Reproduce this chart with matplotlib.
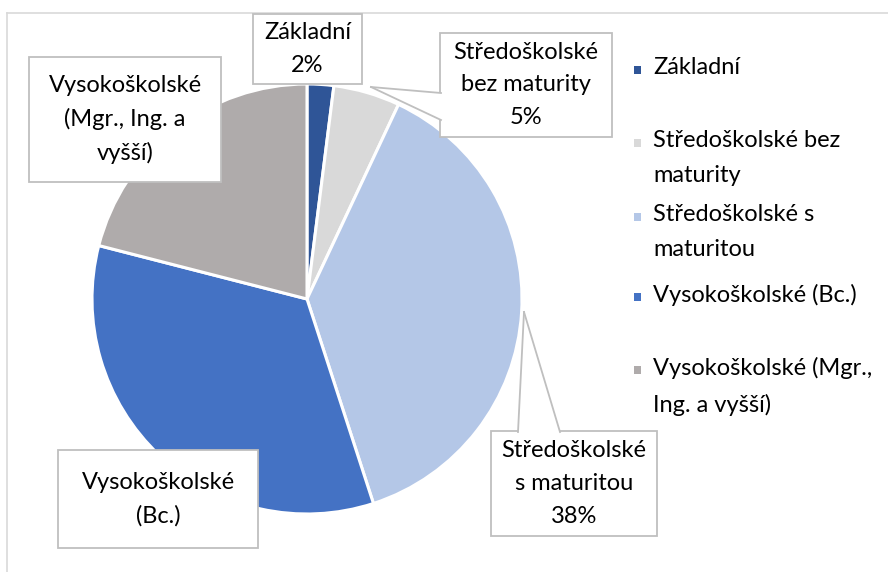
import matplotlib.pyplot as plt
from matplotlib.patches import Rectangle, Polygon
from matplotlib.lines import Line2D

# data
categories = ["Základní", "Středoškolské bez maturity", "Středoškolské s maturitou",
              "Vysokoškolské (Bc.)", "Vysokoškolské (Mgr., Ing. a vyšší)"]
shares = [2, 5, 38, 34, 21]
show_pct = [True, True, True, False, False]
box_names = ["Základní", "Středoškolské\nbez maturity", "Středoškolské\ns maturitou",
             "Vysokoškolské\n(Bc.)", "Vysokoškolské\n(Mgr., Ing. a\nvyšší)"]
legend_labels = ["Základní", "Středoškolské bez\nmaturity", "Středoškolské s\nmaturitou",
                 "Vysokoškolské (Bc.)", "Vysokoškolské (Mgr.,\nIng. a vyšší)"]
colors = ["#2F5597", "#D9D9D9", "#B4C7E7", "#4472C4", "#AFABAB"]

W, H = 888, 572
FONT = "Lato"
FS = 17


def fx(x):
    return x / W


def fy(y):
    return 1 - y / H


fig = plt.figure(figsize=(W / 100, H / 100), dpi=100)

# chart frame (runs off the right and bottom edge)
fig.add_artist(Line2D([fx(7), fx(7)], [fy(13), 0], color="#D9D9D9", lw=1.2))
fig.add_artist(Line2D([fx(7), 1], [fy(13), fy(13)], color="#D9D9D9", lw=1.2))

# pie, centre (307, 299), radius 215 px
ax = fig.add_axes([fx(92), fy(514), 430 / W, 430 / H])
ax.pie(shares, colors=colors, startangle=90, counterclock=False, radius=1,
       wedgeprops=dict(edgecolor="white", linewidth=2.2))
ax.set_xlim(-1, 1)
ax.set_ylim(-1, 1)
ax.axis("off")

# data label boxes (x0, y0, x1, y1) in pixels
boxes = [(253, 14, 362, 84), (440, 33, 612, 137), (491, 431, 657, 536),
         (58, 450, 258, 548), (29, 57, 221, 182)]
edge = "#BFBFBF"
for i, (x0, y0, x1, y1) in enumerate(boxes):
    fig.add_artist(Rectangle((fx(x0), fy(y1)), (x1 - x0) / W, (y1 - y0) / H,
                             transform=fig.transFigure, facecolor="white",
                             edgecolor=edge, lw=1.3, zorder=3))
    txt = box_names[i]
    if show_pct[i]:
        txt += "\n%d%%" % shares[i]
    fig.text(fx((x0 + x1) / 2), fy((y0 + y1) / 2), txt, ha="center", va="center",
             fontsize=FS, family=FONT, linespacing=1.68, zorder=5)

# callout wedges
callouts = [[(371, 87), (441, 93), (441, 120)],
            [(524, 312), (518, 432), (560, 432)]]
for tip, a, b in callouts:
    pts = [(fx(p[0]), fy(p[1])) for p in (tip, a, b)]
    fig.add_artist(Polygon(pts, closed=True, transform=fig.transFigure,
                           facecolor="white", edgecolor="none", zorder=4))
    for p in (a, b):
        fig.add_artist(Line2D([fx(tip[0]), fx(p[0])], [fy(tip[1]), fy(p[1])],
                              color=edge, lw=1.3, zorder=4))

# legend
leg_y = [70, 143, 217, 297, 370]
for lab, c, y in zip(legend_labels, colors, leg_y):
    fig.add_artist(Rectangle((fx(634), fy(y + 4)), 7 / W, 8 / H,
                             transform=fig.transFigure, facecolor=c, edgecolor="none"))
    fig.text(fx(653), fy(y - 13), lab, ha="left", va="top", fontsize=FS,
             family=FONT, linespacing=1.8)

fig.savefig("out.png", dpi=100)
